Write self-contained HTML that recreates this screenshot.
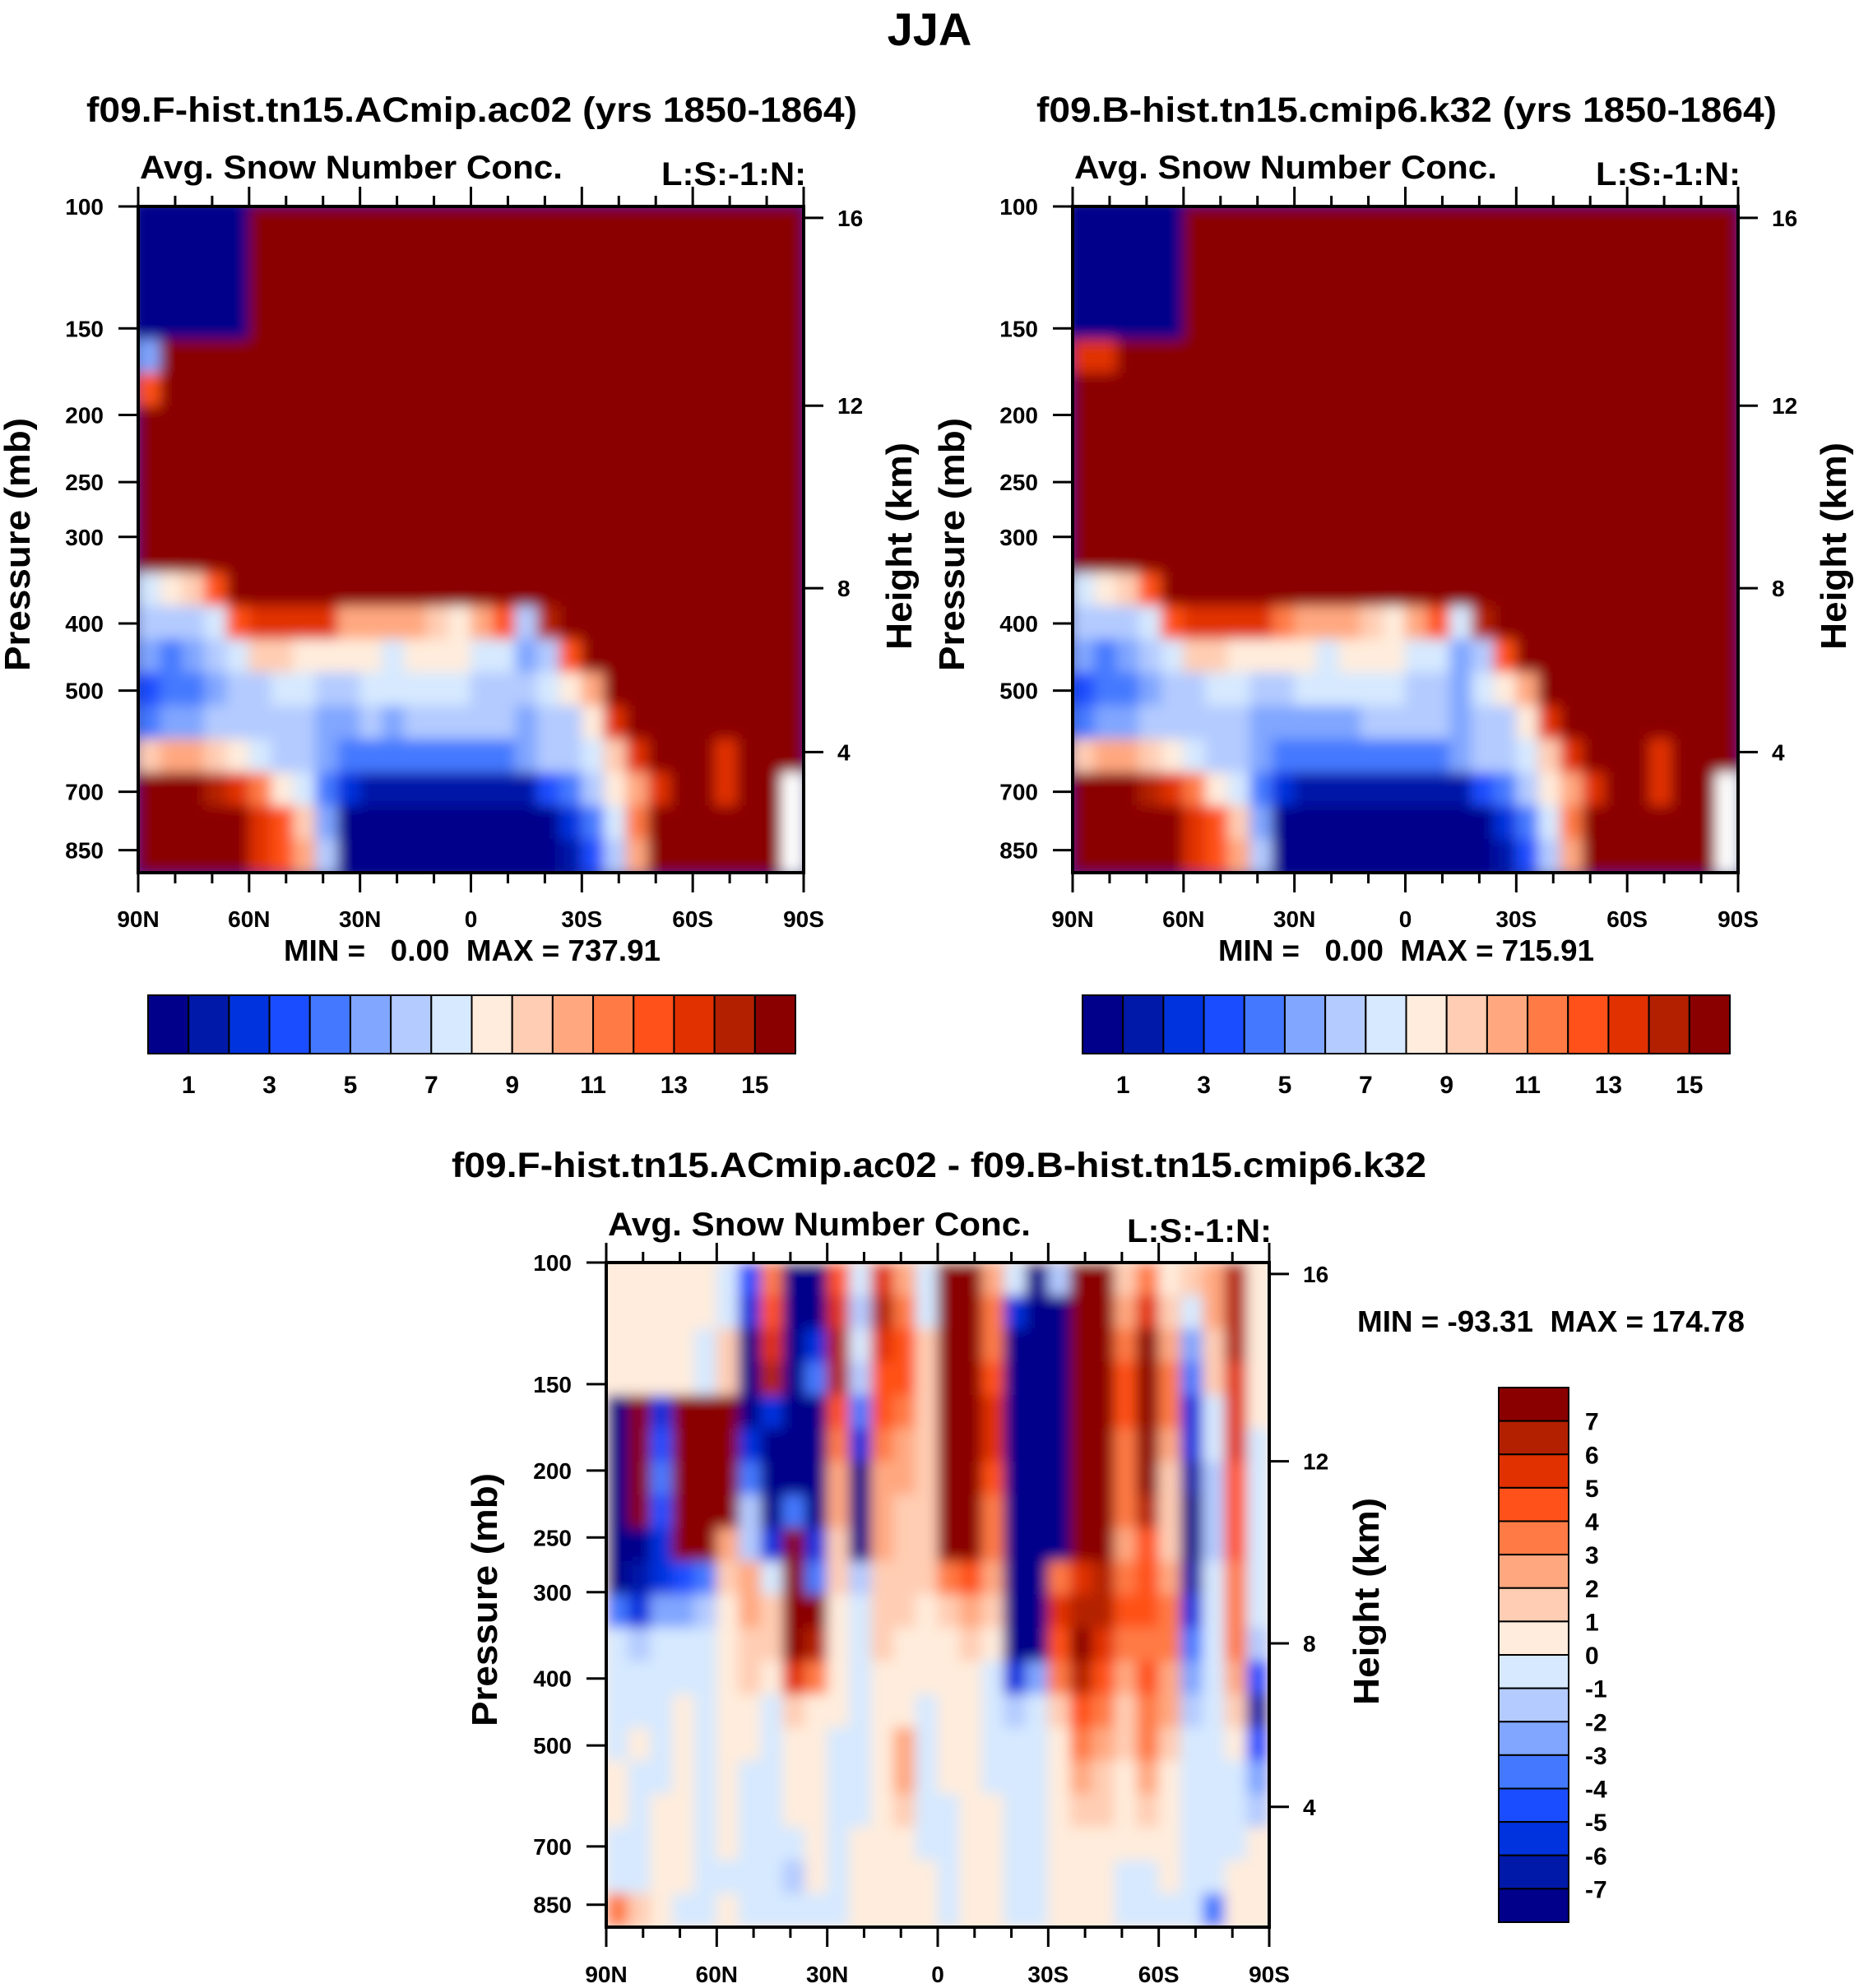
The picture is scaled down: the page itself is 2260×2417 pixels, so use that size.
<!DOCTYPE html>
<html><head><meta charset="utf-8"><style>
html,body{margin:0;padding:0;background:#fff;}
svg{display:block;font-family:"Liberation Sans",Arial,sans-serif;font-weight:bold;}
.pre{white-space:pre;}
</style></head><body>
<svg id="fig" width="2260" height="2417" viewBox="0 0 2260 2417" xmlns="http://www.w3.org/2000/svg">
<defs>
<filter id="soft" x="-2%" y="-2%" width="104%" height="104%"><feGaussianBlur stdDeviation="8"/></filter>
<clipPath id="clipL"><rect x="168" y="251" width="809" height="810"/></clipPath>
<clipPath id="clipR"><rect x="1304" y="251" width="809" height="810"/></clipPath>
<clipPath id="clipD"><rect x="737" y="1535" width="806" height="808"/></clipPath>
</defs>
<text x="1130" y="55" font-size="56" text-anchor="middle">JJA</text>
</svg>
<script>
// ---- data ----
const latLabels = ['90N','60N','30N','0','30S','60S','90S'];
const pressureTicks = [100,150,200,250,300,400,500,700,850];
const heightTicks = [16,12,8,4];
const heightFrac = [0.0171,0.299,0.573,0.819];
const barLabels = ['1','3','5','7','9','11','13','15'];
const diffBarLabels = ['7','6','5','4','3','2','1','0','-1','-2','-3','-4','-5','-6','-7'];
const palette = ['#00008a','#0019a8','#0033dd','#1a4dff','#4479ff','#80a6ff','#b3cbff','#d6e9ff','#ffecdc','#ffcdb3','#ffa880','#ff7a45','#ff5119','#e13100','#b32000','#8a0000'];

const fieldF = [
[0,0,0,0,0,15,15,15,15,15,15,15,15,15,15,15,15,15,15,15,15,15,15,15,15,15,15,15,15,15],
[0,0,0,0,0,15,15,15,15,15,15,15,15,15,15,15,15,15,15,15,15,15,15,15,15,15,15,15,15,15],
[0,0,0,0,0,15,15,15,15,15,15,15,15,15,15,15,15,15,15,15,15,15,15,15,15,15,15,15,15,15],
[0,0,0,0,0,15,15,15,15,15,15,15,15,15,15,15,15,15,15,15,15,15,15,15,15,15,15,15,15,15],
[5,15,15,15,15,15,15,15,15,15,15,15,15,15,15,15,15,15,15,15,15,15,15,15,15,15,15,15,15,15],
[12,15,15,15,15,15,15,15,15,15,15,15,15,15,15,15,15,15,15,15,15,15,15,15,15,15,15,15,15,15],
[15,15,15,15,15,15,15,15,15,15,15,15,15,15,15,15,15,15,15,15,15,15,15,15,15,15,15,15,15,15],
[15,15,15,15,15,15,15,15,15,15,15,15,15,15,15,15,15,15,15,15,15,15,15,15,15,15,15,15,15,15],
[15,15,15,15,15,15,15,15,15,15,15,15,15,15,15,15,15,15,15,15,15,15,15,15,15,15,15,15,15,15],
[15,15,15,15,15,15,15,15,15,15,15,15,15,15,15,15,15,15,15,15,15,15,15,15,15,15,15,15,15,15],
[15,15,15,15,15,15,15,15,15,15,15,15,15,15,15,15,15,15,15,15,15,15,15,15,15,15,15,15,15,15],
[7,8,9,12,15,15,15,15,15,15,15,15,15,15,15,15,15,15,15,15,15,15,15,15,15,15,15,15,15,15],
[6,6,6,7,12,13,13,13,13,10,10,10,10,9,8,10,12,6,14,15,15,15,15,15,15,15,15,15,15,15],
[5,4,5,6,7,9,9,8,8,8,8,7,8,8,8,7,7,5,6,12,15,15,15,15,15,15,15,15,15,15],
[3,4,4,5,6,6,7,7,6,6,7,7,7,7,7,6,6,6,7,8,10,15,15,15,15,15,15,15,15,15],
[4,5,5,6,6,6,6,6,5,5,6,5,6,6,6,6,6,5,6,6,8,13,15,15,15,15,15,15,15,15],
[9,10,10,9,8,7,6,6,5,4,4,4,4,4,4,4,4,5,6,6,7,9,13,15,15,15,13,15,15,15],
[15,15,15,14,13,11,8,7,4,2,1,1,1,1,1,1,1,1,3,4,6,8,10,13,15,15,13,15,15,-1],
[15,15,15,15,15,13,12,9,5,0,0,0,0,0,0,0,0,0,0,2,4,7,11,15,15,15,15,15,15,-1],
[15,15,15,15,15,13,12,10,6,0,0,0,0,0,0,0,0,0,0,1,3,6,10,15,15,15,15,15,15,-1]
];
const fieldB = [
[0,0,0,0,0,15,15,15,15,15,15,15,15,15,15,15,15,15,15,15,15,15,15,15,15,15,15,15,15,15],
[0,0,0,0,0,15,15,15,15,15,15,15,15,15,15,15,15,15,15,15,15,15,15,15,15,15,15,15,15,15],
[0,0,0,0,0,15,15,15,15,15,15,15,15,15,15,15,15,15,15,15,15,15,15,15,15,15,15,15,15,15],
[0,0,0,0,0,15,15,15,15,15,15,15,15,15,15,15,15,15,15,15,15,15,15,15,15,15,15,15,15,15],
[13,13,15,15,15,15,15,15,15,15,15,15,15,15,15,15,15,15,15,15,15,15,15,15,15,15,15,15,15,15],
[15,15,15,15,15,15,15,15,15,15,15,15,15,15,15,15,15,15,15,15,15,15,15,15,15,15,15,15,15,15],
[15,15,15,15,15,15,15,15,15,15,15,15,15,15,15,15,15,15,15,15,15,15,15,15,15,15,15,15,15,15],
[15,15,15,15,15,15,15,15,15,15,15,15,15,15,15,15,15,15,15,15,15,15,15,15,15,15,15,15,15,15],
[15,15,15,15,15,15,15,15,15,15,15,15,15,15,15,15,15,15,15,15,15,15,15,15,15,15,15,15,15,15],
[15,15,15,15,15,15,15,15,15,15,15,15,15,15,15,15,15,15,15,15,15,15,15,15,15,15,15,15,15,15],
[15,15,15,15,15,15,15,15,15,15,15,15,15,15,15,15,15,15,15,15,15,15,15,15,15,15,15,15,15,15],
[7,8,9,12,15,15,15,15,15,15,15,15,15,15,15,15,15,15,15,15,15,15,15,15,15,15,15,15,15,15],
[6,6,6,7,12,13,13,13,13,11,10,10,10,9,8,10,12,7,14,15,15,15,15,15,15,15,15,15,15,15],
[5,4,5,6,7,9,9,8,8,8,8,7,8,8,8,7,7,5,6,12,15,15,15,15,15,15,15,15,15,15],
[3,4,4,5,6,6,7,7,6,6,7,7,7,7,7,6,6,5,7,8,10,15,15,15,15,15,15,15,15,15],
[4,5,5,6,6,6,6,6,5,5,5,5,5,6,6,6,6,5,6,6,8,13,15,15,15,15,15,15,15,15],
[9,10,10,9,8,7,6,6,5,4,4,4,4,4,4,4,4,5,6,6,7,9,13,15,15,15,13,15,15,15],
[15,15,15,14,13,11,8,7,4,2,1,1,1,1,1,1,1,1,3,4,6,8,10,13,15,15,13,15,15,-1],
[15,15,15,15,15,13,12,9,5,0,0,0,0,0,0,0,0,0,0,2,4,7,11,15,15,15,15,15,15,-1],
[15,15,15,15,15,13,12,10,6,0,0,0,0,0,0,0,0,0,0,1,3,6,10,15,15,15,15,15,15,-1]
];
const fieldDiff = [
[0.5,0.5,0.5,0.5,0.5,-0.5,-5,3,-8,-8,4,-1,5,2,-0.5,7,8,2,-1,-8,-2,8,7,1,3,0.5,1,2,6,0.5],
[0.5,0.5,0.5,0.5,0.5,-0.5,-6,4,-8,-8,5,-2,6,3,-0.5,8,8,3,-6,-8,-8,8,8,2,5,1,-1,2,6,0.5],
[0.5,0.5,0.5,0.5,-0.5,1,-8,5,-8,-6,6,-1,5,4,1,8,8,3,-8,-8,-8,8,8,3,7,2,-3,1,6,0.5],
[0.5,0.5,0.5,0.5,-0.5,1,-8,6,-8,-4,6,-2,4,4,1,8,8,4,-8,-8,-8,8,8,4,8,3,-4,1,5,0.5],
[-8,8,-6,8,8,8,-8,-6,-8,-8,4,-4,4,3,1,8,8,5,-8,-8,-8,8,8,4,8,3,-6,-1,5,0.5],
[-8,8,-5,8,8,8,-6,-8,-8,-8,3,-6,3,2,1,8,8,5,-8,-8,-8,8,8,3,8,2,-6,-1,5,-0.5],
[-8,8,-4,8,8,8,-4,-8,-8,-8,2,-8,2,2,1,8,8,4,-8,-8,-8,8,8,3,7,1,-7,-2,4,-0.5],
[-8,8,-5,8,8,8,-2,-8,-4,-8,2,-8,2,1,1,8,8,3,-8,-8,-8,8,8,3,6,1,-8,-2,4,-0.5],
[-8,-8,-6,8,8,2,-2,-6,8,-6,1,-8,2,1,1,8,8,3,-8,-8,-8,8,8,2,4,1,-8,-2,4,-1],
[-8,-7,-6,-5,-4,1,2,-1,8,-4,1,-2,1,1,1,3,4,2,-8,-8,3,5,6,3,4,2,-7,-1,3,-1],
[-4,-6,-3,-3,-2,0.5,2,1,8,8,0.5,-1,1,1,0.5,1,2,1,-8,-8,5,6,6,4,4,3,-6,-1,3,-1],
[-1,-2,-1,-1,-0.5,0.5,1,1,7,6,0.5,-0.5,1,0.5,0.5,0.5,1,0.5,-8,-8,4,7,5,3,3,3,-4,-1,3,-2],
[-0.5,-1,-0.5,-0.5,-0.5,0.5,1,0.5,5,3,0.5,-0.5,0.5,0.5,0.5,0.5,0.5,-1,-6,-3,3,6,4,2,4,2,-3,-1,2,-5],
[-0.5,-0.5,-0.5,0.5,-0.5,0.5,0.5,-0.5,1,0.5,0.5,-0.5,0.5,0.5,-0.5,0.5,0.5,-1,-2,-1,1,4,3,1,3,2,-2,-0.5,1,-7],
[-0.5,0.5,-0.5,0.5,-0.5,0.5,0.5,-0.5,0.5,0.5,-0.5,-0.5,0.5,2,-0.5,0.5,0.5,-0.5,-0.5,-1,0.5,3,2,1,3,1,-1,-0.5,0.5,-5],
[0.5,-0.5,-0.5,0.5,-0.5,0.5,-0.5,-0.5,0.5,0.5,-0.5,-0.5,0.5,2,-0.5,0.5,0.5,-0.5,-0.5,-0.5,0.5,2,1,0.5,2,0.5,-1,-0.5,-1,-3],
[0.5,-0.5,0.5,0.5,-0.5,0.5,-0.5,-0.5,0.5,0.5,-0.5,-0.5,0.5,1,-0.5,-0.5,0.5,0.5,-0.5,-0.5,0.5,1,1,0.5,1,0.5,-0.5,-0.5,-0.5,-2],
[-0.5,-0.5,0.5,0.5,-0.5,0.5,-0.5,-0.5,-0.5,0.5,-0.5,0.5,0.5,0.5,-0.5,-0.5,0.5,0.5,-0.5,-0.5,0.5,0.5,0.5,0.5,0.5,0.5,-0.5,-0.5,-0.5,0.5],
[-0.5,-0.5,0.5,0.5,-0.5,-0.5,-0.5,-0.5,-2,0.5,-0.5,0.5,0.5,0.5,0.5,-0.5,0.5,0.5,-0.5,-0.5,0.5,0.5,0.5,-0.5,-1,0.5,-0.5,-0.5,0.5,0.5],
[3,1,0.5,-0.5,-0.5,0.5,-0.5,-0.5,-0.5,-0.5,-0.5,0.5,0.5,0.5,0.5,-0.5,0.5,0.5,-0.5,-0.5,0.5,0.5,0.5,-0.5,-0.5,-0.5,-0.5,-4,0.5,0.5]
];

// ---- drawing ----
const NS = 'http://www.w3.org/2000/svg';
const svg = document.getElementById('fig');
function mk(tag, attrs, parent){
  const e = document.createElementNS(NS, tag);
  for (const k in attrs) e.setAttribute(k, attrs[k]);
  (parent||svg).appendChild(e);
  return e;
}
function txt(s, attrs, parent){ const e = mk('text', attrs, parent); e.textContent = s; return e; }
const PBOT = 916;
function pFrac(p){ return (Math.log(p) - Math.log(100)) / (Math.log(PBOT) - Math.log(100)); }
function diffBin(v){ if (v > 7) return 15; return Math.max(0, Math.min(15, Math.floor(v) + 8)); }

function drawPanel(P){
  const W = P.x1 - P.x0, H = P.y1 - P.y0;
  const rows = P.field.length, cols = P.field[0].length;
  const cw = W / cols, rh = H / rows;
  const g = mk('g', {'clip-path': 'url(#' + P.clip + ')'});
  
  
  const inner = mk('g', {filter: 'url(#soft)'}, g);
  mk('rect', {x: P.x0 - 10, y: P.y0 - 10, width: W + 20, height: H + 20, fill: palette[P.bin(P.field[0][0])]}, inner);
  P.field.forEach((row, r) => {
    row.forEach((v, c) => {
      const cell = mk('rect', {x: P.x0 + c * cw - 0.5, y: P.y0 + r * rh - 0.5, width: cw + 1, height: rh + 1,
        fill: v < 0 && P.bin === Number ? '#ffffff' : palette[P.bin(v)]}, inner);
      
      
    });
  });
  const fr = mk('rect', {x: P.x0, y: P.y0, width: W, height: H, fill: 'none', stroke: '#000', 'stroke-width': 4});
  
  
  for (let i = 0; i <= 18; i++) {
    const x = P.x0 + W * i / 18, major = i % 3 === 0;
    const len = major ? 24 : 13;
    mk('line', {x1: x, y1: P.y1, x2: x, y2: P.y1 + len, stroke: '#000', 'stroke-width': 3});
    mk('line', {x1: x, y1: P.y0, x2: x, y2: P.y0 - len, stroke: '#000', 'stroke-width': 3});
  }
  latLabels.forEach((l, i) => {
    const t = txt(l, {x: P.x0 + W * i / 6, y: P.xlabY, 'font-size': 28, 'text-anchor': 'middle'});
    
    
  });
  pressureTicks.forEach(p => {
    const y = P.y0 + H * pFrac(p);
    mk('line', {x1: P.x0 - 24, y1: y, x2: P.x0, y2: y, stroke: '#000', 'stroke-width': 3});
    const t = txt(String(p), {x: P.x0 - 42, y: y + 10, 'font-size': 28, 'text-anchor': 'end'});
    
    
  });
  heightTicks.forEach((h, i) => {
    const y = P.y0 + H * heightFrac[i];
    mk('line', {x1: P.x1, y1: y, x2: P.x1 + 24, y2: y, stroke: '#000', 'stroke-width': 3});
    const t = txt(String(h), {x: P.x1 + 41, y: y + 10, 'font-size': 28});
    
    
  });
  const yc = P.y0 + H * 0.5;
  const pt = txt('Pressure (mb)', {x: 0, y: 0, 'font-size': 44, 'text-anchor': 'middle', textLength: 308, lengthAdjust: 'spacingAndGlyphs',
    transform: 'translate(' + P.pLabX + ',' + (yc + 6) + ') rotate(-90)'});
  
  
  const ht = txt('Height (km)', {x: 0, y: 0, 'font-size': 44, 'text-anchor': 'middle', textLength: 252, lengthAdjust: 'spacingAndGlyphs',
    transform: 'translate(' + P.hLabX + ',' + (yc + 8) + ') rotate(-90)'});
  
  
  const st = txt('Avg. Snow Number Conc.', {x: P.x0 + 2, y: P.subY, 'font-size': 40, textLength: 514, lengthAdjust: 'spacingAndGlyphs'});
  
  
  const ls = txt('L:S:-1:N:', {x: P.x1 + 3, y: P.subY + 8, 'font-size': 40, 'text-anchor': 'end', textLength: 176, lengthAdjust: 'spacingAndGlyphs'});
  
  
}

drawPanel({id: 'left', field: fieldF, bin: Number, x0: 168, x1: 977, y0: 251, y1: 1061, clip: 'clipL', xlabY: 1127, pLabX: 36, hLabX: 1108, subY: 217});
drawPanel({id: 'right', field: fieldB, bin: Number, x0: 1304, x1: 2113, y0: 251, y1: 1061, clip: 'clipR', xlabY: 1127, pLabX: 1172, hLabX: 2244, subY: 217});
drawPanel({id: 'diff', field: fieldDiff, bin: diffBin, x0: 737, x1: 1543, y0: 1535, y1: 2343, clip: 'clipD', xlabY: 2410, pLabX: 604, hLabX: 1676, subY: 1502});

let t;
t = txt('f09.F-hist.tn15.ACmip.ac02 (yrs 1850-1864)', {x: 105, y: 148, 'font-size': 43, textLength: 937, lengthAdjust: 'spacingAndGlyphs'});


t = txt('f09.B-hist.tn15.cmip6.k32 (yrs 1850-1864)', {x: 1260, y: 148, 'font-size': 43, textLength: 900, lengthAdjust: 'spacingAndGlyphs'});


t = txt('f09.F-hist.tn15.ACmip.ac02 - f09.B-hist.tn15.cmip6.k32', {x: 549, y: 1431, 'font-size': 43, textLength: 1185, lengthAdjust: 'spacingAndGlyphs'});


t = txt('MIN =   0.00  MAX = 737.91', {x: 345, y: 1168, 'font-size': 36, textLength: 458, lengthAdjust: 'spacingAndGlyphs', class: 'pre'});


t = txt('MIN =   0.00  MAX = 715.91', {x: 1481, y: 1168, 'font-size': 36, textLength: 457, lengthAdjust: 'spacingAndGlyphs', class: 'pre'});


t = txt('MIN = -93.31  MAX = 174.78', {x: 1650, y: 1619, 'font-size': 36, textLength: 471, lengthAdjust: 'spacingAndGlyphs', class: 'pre'});



function hbar(x0, id){
  const y0 = 1210, w = 787, h = 71, bw = w / 16;
  const g = mk('g', {});
  
  
  palette.forEach((c, i) => {
    const b = mk('rect', {x: x0 + i * bw, y: y0, width: bw, height: h, fill: c, stroke: '#000', 'stroke-width': 2}, g);
    
    
  });
  barLabels.forEach((l, i) => {
    const lb = txt(l, {x: x0 + bw * (1 + 2 * i), y: 1329, 'font-size': 30, 'text-anchor': 'middle'}, g);
    
    
  });
}
hbar(180, 'left');
hbar(1316, 'right');

(function(){
  const x0 = 1822, y0 = 1687, w = 85, h = 650, bh = h / 16;
  const g = mk('g', {});
  
  
  palette.slice().reverse().forEach((c, i) => {
    const b = mk('rect', {x: x0, y: y0 + i * bh, width: w, height: bh, fill: c, stroke: '#000', 'stroke-width': 2}, g);
    
    
  });
  diffBarLabels.forEach((l, i) => {
    const lb = txt(l, {x: 1927, y: y0 + bh * (i + 1) + 11, 'font-size': 30}, g);
    
    
  });
})();
</script>
</body></html>
